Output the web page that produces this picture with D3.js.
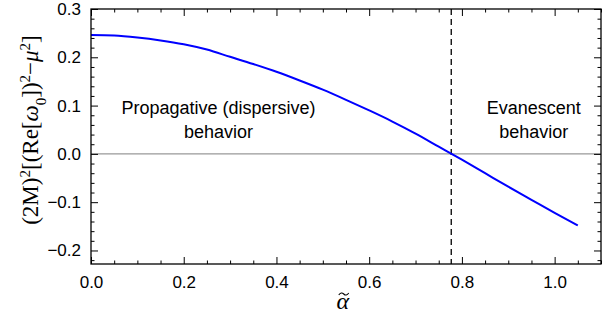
<!DOCTYPE html>
<html>
<head>
<meta charset="utf-8">
<script src="https://cdn.jsdelivr.net/npm/d3@7"></script>
<style>
  body { margin: 0; background: #fff; }
  svg { display: block; }
  .tick text { font-family: "Liberation Sans", Arial, sans-serif; font-size: 17px; fill: #000; }
</style>
</head>
<body>
<svg id="chart" width="613" height="318"></svg>
<script>
/* global d3 */

// values
const alphaValues = [0, 0.05, 0.10, 0.15, 0.20, 0.25, 0.30, 0.35, 0.40, 0.45, 0.50,
  0.55, 0.60, 0.65, 0.70, 0.75, 0.80, 0.85, 0.90, 0.95, 1.00, 1.05]
const curveValues = [0.246, 0.245, 0.241, 0.235, 0.227, 0.216, 0.201, 0.186, 0.170, 0.152, 0.133,
  0.112, 0.090, 0.067, 0.042, 0.015, -0.012, -0.040, -0.068, -0.095, -0.122, -0.148]
const xTicks = [0, 0.2, 0.4, 0.6, 0.8, 1.0]
const yTicks = [-0.2, -0.1, 0.0, 0.1, 0.2, 0.3]
const criticalAlpha = 0.777

const margin = { left: 91, right: 12, top: 9, bottom: 54 }
const width = 613
const height = 318

const svg = d3.select('#chart')

const x = d3.scaleLinear().domain([0, 1.1]).range([margin.left, width - margin.right])
const y = d3.scaleLinear().domain([-0.228, 0.3]).range([height - margin.bottom, margin.top])

const xMinor = d3.range(0, 1.1001, 0.05).filter(v => !xTicks.some(t => Math.abs(t - v) < 1e-6))
const yMinor = d3.range(-0.22, 0.3001, 0.02).filter(v => !yTicks.some(t => Math.abs(t - v) < 1e-6))

// zero line
svg.append('line')
  .attr('x1', x(0)).attr('x2', x(1.1))
  .attr('y1', y(0)).attr('y2', y(0))
  .attr('stroke', '#999').attr('stroke-width', 1.2)

// dashed line
svg.append('line')
  .attr('x1', x(criticalAlpha)).attr('x2', x(criticalAlpha))
  .attr('y1', y(0.3)).attr('y2', y(-0.228))
  .attr('stroke', '#000').attr('stroke-width', 1.3)
  .attr('stroke-dasharray', '6,4')

// curve
const line = d3.line()
  .x((d, i) => x(alphaValues[i]))
  .y(d => y(d))
  .curve(d3.curveMonotoneX)

svg.append('path')
  .datum(curveValues)
  .attr('fill', 'none')
  .attr('stroke', '#0000ff')
  .attr('stroke-width', 2)
  .attr('d', line)

// axes: ticks point inward on all four sides
function frameAxis(axisFn, scale, major, minor, labels, transform) {
  const gMinor = svg.append('g').attr('transform', transform)
    .call(axisFn(scale).tickValues(minor).tickSize(-3.5).tickFormat(''))
  gMinor.select('.domain').remove()
  const g = svg.append('g').attr('transform', transform)
    .call(axisFn(scale).tickValues(major).tickSize(-7).tickPadding(10)
      .tickFormat(labels ? d3.format('.1f') : ''))
  g.select('.domain').remove()
  g.selectAll('.tick line').attr('stroke', '#000')
  gMinor.selectAll('.tick line').attr('stroke', '#000')
  return g
}

const xb = frameAxis(d3.axisBottom, x, xTicks, xMinor, true, `translate(0,${y(-0.228)})`)
xb.selectAll('.tick text').attr('dy', '0.85em')
frameAxis(d3.axisTop, x, xTicks, xMinor, false, `translate(0,${y(0.3)})`)
const yl = frameAxis(d3.axisLeft, y, yTicks, yMinor, true, `translate(${x(0)},0)`)
yl.selectAll('.tick text').text(d => d3.format('.1f')(d).replace('-', '\u2212'))
frameAxis(d3.axisRight, y, yTicks, yMinor, false, `translate(${x(1.1)},0)`)

// frame
svg.append('rect')
  .attr('x', x(0)).attr('y', y(0.3))
  .attr('width', x(1.1) - x(0)).attr('height', y(-0.228) - y(0.3))
  .attr('fill', 'none').attr('stroke', '#000').attr('stroke-width', 1.3)

// annotations
const notes = [
  { lines: ['Propagative (dispersive)', 'behavior'], ax: 0.275, ay: 0.083 },
  { lines: ['Evanescent', 'behavior'], ax: 0.955, ay: 0.083 }
]
notes.forEach(n => {
  const t = svg.append('text')
    .attr('x', x(n.ax)).attr('y', y(n.ay))
    .attr('text-anchor', 'middle')
    .attr('font-family', '"Liberation Sans", Arial, sans-serif')
    .attr('font-size', 18)
  n.lines.forEach((s, i) => {
    t.append('tspan').attr('x', x(n.ax)).attr('dy', i === 0 ? 0 : 24.5).text(s)
  })
})

// axis titles
const xlx = x(0.543)
svg.append('text')
  .attr('x', xlx).attr('y', 309)
  .attr('text-anchor', 'middle')
  .attr('font-family', '"Liberation Serif", "Times New Roman", serif')
  .attr('font-style', 'italic')
  .attr('font-size', 24)
  .text('\u03B1')
// tilde accent drawn as a small stroke
svg.append('path')
  .attr('d', `M${xlx - 4},${295} q2.5,-3.5 5,-1 t5,-1`)
  .attr('fill', 'none').attr('stroke', '#000').attr('stroke-width', 1.1)

const ylab = svg.append('text')
  .attr('transform', 'translate(38,130) rotate(-90)')
  .attr('text-anchor', 'middle')
  .attr('font-family', '"Liberation Serif", "Times New Roman", serif')
  .attr('font-size', 23)
ylab.append('tspan').text('(2M)')
ylab.append('tspan').attr('baseline-shift', 'super').attr('font-size', 15).text('2')
ylab.append('tspan').text('[(Re[')
ylab.append('tspan').attr('font-style', 'italic').text('\u03C9')
ylab.append('tspan').attr('baseline-shift', 'sub').attr('font-size', 15).text('0')
ylab.append('tspan').text('])')
ylab.append('tspan').attr('baseline-shift', 'super').attr('font-size', 15).text('2')
ylab.append('tspan').text('\u2212')
ylab.append('tspan').attr('font-style', 'italic').text('\u03BC')
ylab.append('tspan').attr('baseline-shift', 'super').attr('font-size', 15).text('2')
ylab.append('tspan').text(']')
</script>
</body>
</html>
